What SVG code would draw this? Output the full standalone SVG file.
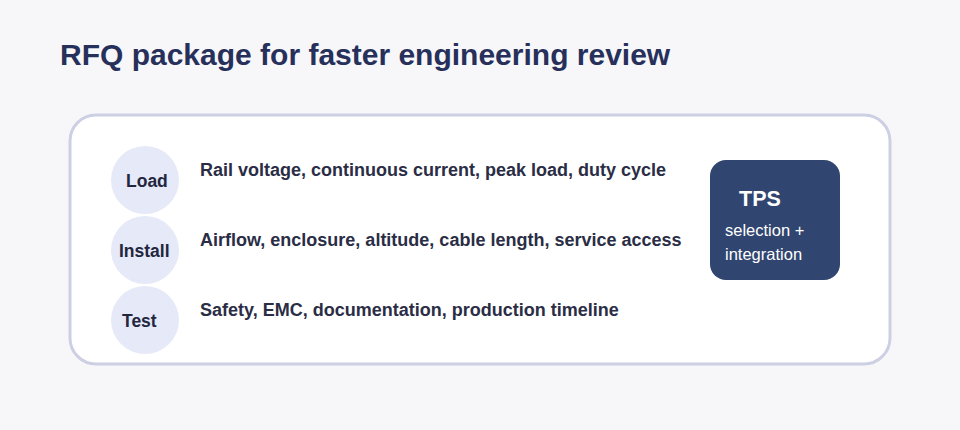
<svg xmlns="http://www.w3.org/2000/svg" width="960" height="430" viewBox="0 0 960 430">
<style>
.title{font-family:"Liberation Sans",Arial,sans-serif;font-weight:bold;font-size:30px;fill:#27305a}
.lbl{font-family:"Liberation Sans",Arial,sans-serif;font-weight:bold;font-size:17.5px;fill:#22263e}
.body{font-family:"Liberation Sans",Arial,sans-serif;font-weight:bold;font-size:18px;fill:#2a2d45}
.circ{fill:#e6e9f7}
.tps{font-family:"Liberation Sans",Arial,sans-serif;fill:#ffffff}
</style>
<rect x="0" y="0" width="960" height="430" fill="#f7f7fa"/>
<text class="title" x="60" y="65">RFQ package for faster engineering review</text>
<rect id="panel" x="70" y="115" width="820" height="249" rx="26" fill="#ffffff" stroke="#cdd0e3" stroke-width="3"/>
<g id="load">
<circle class="circ" cx="145" cy="180" r="34"/>
<text class="lbl" x="126" y="187">Load</text>
<text class="body" x="200" y="176">Rail voltage, continuous current, peak load, duty cycle</text>
</g>
<g id="install">
<circle class="circ" cx="145" cy="250" r="34"/>
<text class="lbl" x="119" y="257">Install</text>
<text class="body" x="200" y="246">Airflow, enclosure, altitude, cable length, service access</text>
</g>
<g id="test">
<circle class="circ" cx="145" cy="320" r="34"/>
<text class="lbl" x="122" y="327">Test</text>
<text class="body" x="200" y="316">Safety, EMC, documentation, production timeline</text>
</g>
<g id="tps">
<rect x="710" y="160" width="130" height="120" rx="16" fill="#30456f"/>
<text class="tps" x="739" y="206" font-size="21.5" font-weight="bold">TPS</text>
<text class="tps" x="725" y="236" font-size="16.5">selection +</text>
<text class="tps" x="725" y="260" font-size="16.5">integration</text>
</g>
<g id="connectors"></g>
</svg>
